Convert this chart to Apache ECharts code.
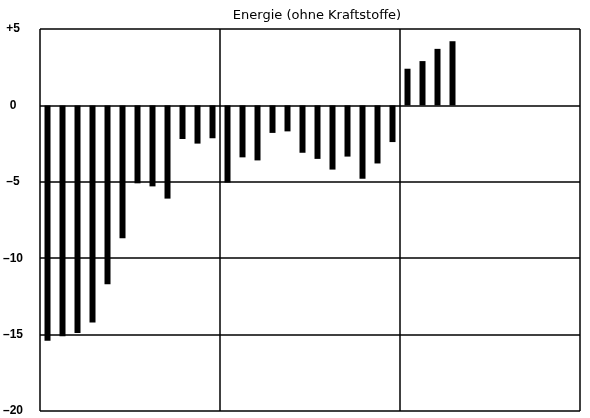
<!DOCTYPE html>
<html>
<head>
<meta charset="utf-8">
<script src="https://cdn.jsdelivr.net/npm/echarts@6/dist/echarts.min.js"></script>
<style>html,body{margin:0;padding:0;background:#fff}#c{width:590px;height:418px}</style>
</head>
<body>
<div id="c"></div>
<script>
const titleText = 'Energie (ohne Kraftstoffe)';
const categories = [
  'J1','F1','M1','A1','M1b','J1b','J1c','A1b','S1','O1','N1','D1',
  'J2','F2','M2','A2','M2b','J2b','J2c','A2b','S2','O2','N2','D2',
  'J3','F3','M3','A3','M3b','J3b','J3c','A3b','S3','O3','N3','D3'
];
const values = [
  -15.4, -15.1, -14.9, -14.2, -11.7, -8.7, -5.1, -5.3, -6.1, -2.2, -2.5, -2.15,
  -5.05, -3.4, -3.6, -1.8, -1.7, -3.1, -3.5, -4.2, -3.35, -4.8, -3.8, -2.4,
  2.4, 2.9, 3.7, 4.2, null, null, null, null, null, null, null, null
];
const yTicks = { min: -20, max: 5, interval: 5 };

const chart = echarts.init(document.getElementById('c'));
const lineStyle = { color: '#000', width: 1.5 };
chart.setOption({
  animation: false,
  backgroundColor: '#fff',
  title: {
    text: titleText, left: 312, top: 4, textAlign: 'center',
    textStyle: { fontFamily: 'DejaVu Sans', fontSize: 13, fontWeight: 'normal', color: '#000' }
  },
  grid: { left: 40, right: 10, top: 29, bottom: 7 },
  xAxis: [
    {
      type: 'category', data: categories, boundaryGap: true,
      axisLine: { show: false }, axisTick: { show: false }, axisLabel: { show: false },
      splitLine: { show: false }
    },
    {
      type: 'value', min: 0, max: 36, interval: 12, position: 'bottom',
      axisLine: { show: false }, axisTick: { show: false }, axisLabel: { show: false },
      splitLine: { show: true, lineStyle: lineStyle }
    }
  ],
  yAxis: {
    type: 'value', min: yTicks.min, max: yTicks.max, interval: yTicks.interval,
    axisLine: { show: false }, axisTick: { show: false },
    splitLine: { show: true, lineStyle: lineStyle },
    axisLabel: {
      margin: 27, align: 'center',
      fontFamily: 'Liberation Sans', fontSize: 12, fontWeight: 700, color: '#000',
      formatter: v => v > 0 ? '+' + v : (v < 0 ? '\u2013' + Math.abs(v) : '0')
    }
  },
  series: [{
    type: 'bar', xAxisIndex: 0, data: values, barWidth: 6,
    itemStyle: { color: '#000' }
  }]
});
</script>
</body>
</html>
